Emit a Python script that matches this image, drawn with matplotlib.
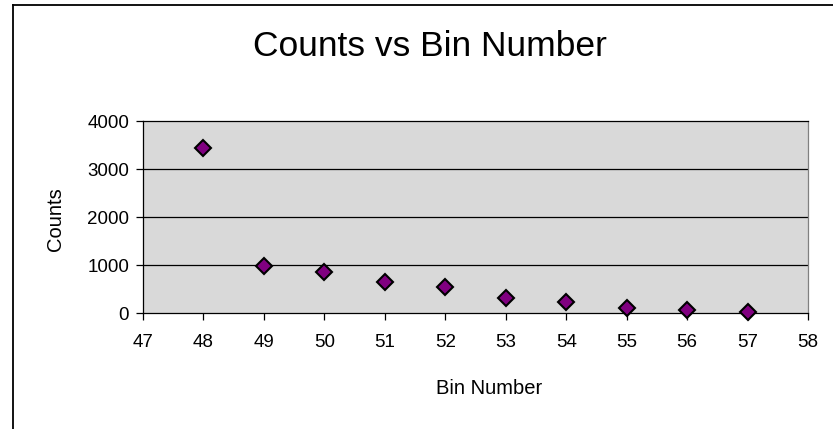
import matplotlib
matplotlib.use('Agg')
from matplotlib import pyplot as plt
from matplotlib.lines import Line2D

plt.rcParams['font.family'] = ['Liberation Sans', 'DejaVu Sans']

'''data read off the chart'''
bins = [48, 49, 50, 51, 52, 53, 54, 55, 56, 57]
counts = [3445, 975, 850, 655, 550, 305, 225, 110, 65, 22]
x_ticks = list(range(47, 59))
y_ticks = [0, 1000, 2000, 3000, 4000]

'''figure + chart-area frame'''
fig = plt.figure(figsize=(8.33, 4.29), dpi=100)
W, H = 833, 429
fig.add_artist(Line2D([13 / W, 13 / W], [0, 1 - 4.5 / H], color='black', lw=1.3))
fig.add_artist(Line2D([13 / W, 1], [1 - 4.5 / H, 1 - 4.5 / H], color='black', lw=1.3))

ax = fig.add_axes([143 / W, 1 - 313 / H, (808 - 143) / W, (313 - 121) / H])
ax.set_facecolor('#d9d9d9')

ax.set_xlim(47, 58)
ax.set_ylim(0, 4000)
ax.set_xticks(x_ticks)
ax.set_yticks(y_ticks)
ax.tick_params(axis='both', labelsize=13.5, length=5, width=0.9, color='black')
ax.tick_params(axis='x', pad=10)
ax.tick_params(axis='y', pad=5)

for y in y_ticks[1:-1]:
    ax.axhline(y, color='black', lw=0.9, zorder=1)

ax.spines['left'].set_color('black')
ax.spines['bottom'].set_color('black')
ax.spines['top'].set_color('black')
ax.spines['right'].set_color('#808080')
for s in ax.spines.values():
    s.set_linewidth(0.9)

ax.plot(bins, counts, linestyle='none', marker='D', markersize=8,
        markerfacecolor='#800080', markeredgecolor='black', markeredgewidth=1.5,
        zorder=3, clip_on=False)

fig.text(430 / W, 1 - 46 / H, 'Counts vs Bin Number', fontsize=25.5,
         ha='center', va='center')
ax.set_xlabel('Bin Number', fontsize=14.5)
ax.set_ylabel('Counts', fontsize=14.5)
# label positions in axes fraction (Excel puts them a little off-centre)
ax.xaxis.set_label_coords((489 - 143) / 665, -(388 - 313) / 192, transform=ax.transAxes)
ax.xaxis.label.set_va('center')
ax.yaxis.set_label_coords(-(143 - 55) / 665, (313 - 219) / 192, transform=ax.transAxes)
ax.yaxis.label.set_va('center')

fig.savefig('out.png', dpi=100)
